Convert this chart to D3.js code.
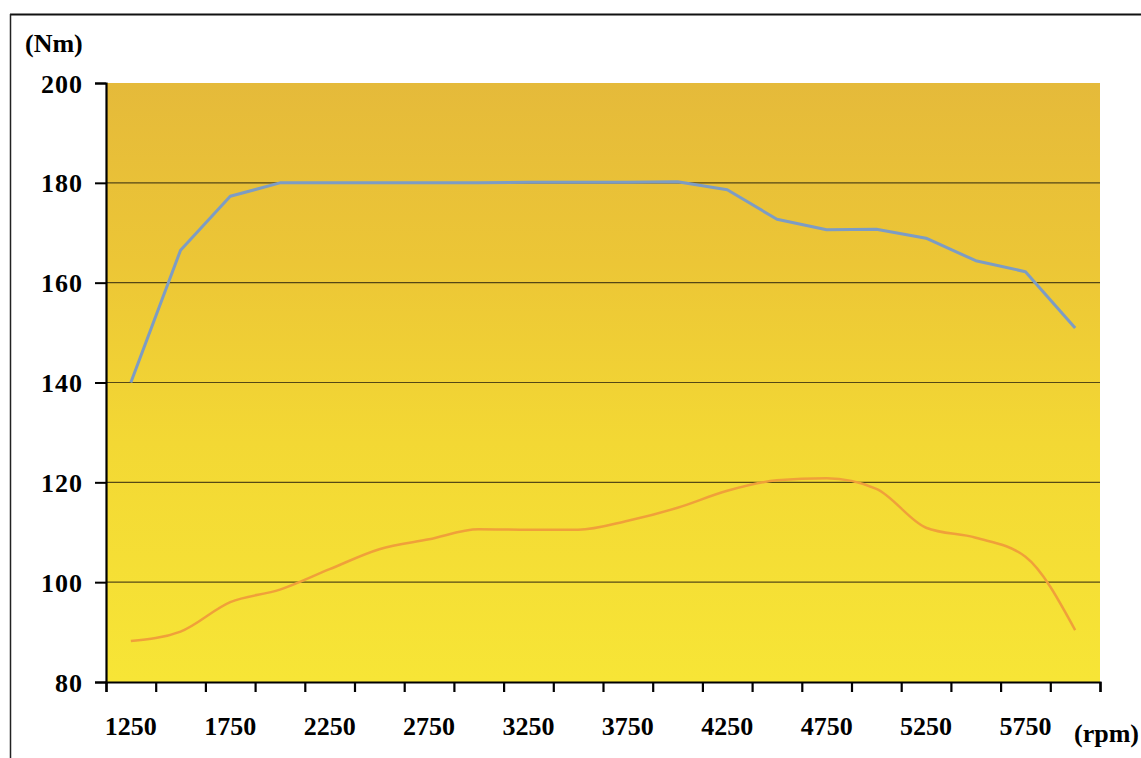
<!DOCTYPE html>
<html>
<head>
<meta charset="utf-8">
<script src="https://cdn.jsdelivr.net/npm/d3@7"></script>
<style>
  html, body { margin: 0; padding: 0; background: #fff; }
  svg { display: block; }
  .lbl { font-family: "Liberation Serif", "Times New Roman", serif; font-weight: bold; fill: #000; }
</style>
</head>
<body>
<svg id="chart" width="1141" height="758"></svg>
<script>
const categories = [1250,1500,1750,2000,2250,2500,2750,3000,3250,3500,3750,4000,4250,4500,4750,5000,5250,5500,5750,6000];
const torque = [140,166.5,177.3,180,180,180,180,180,180.1,180.1,180.1,180.2,178.6,172.7,170.6,170.7,168.9,164.4,162.2,150.9];
const power  = [88.2,90.1,96.0,98.5,102.6,106.6,108.6,110.6,110.5,110.5,112.3,114.9,118.3,120.4,120.8,118.7,110.9,108.9,105.1,90.4];
const xTickLabels = ["1250","1750","2250","2750","3250","3750","4250","4750","5250","5750"];
const yTicks = [80,100,120,140,160,180,200];

(function(){
const svg = d3.select("#chart");
const W = 1141, H = 758;
const pL = 106, pR = 1100, pT = 83, pB = 682;

// outer frame lines
svg.append("line").attr("x1",10).attr("x2",W).attr("y1",14.5).attr("y2",14.5).attr("stroke","#111").attr("stroke-width",2);
svg.append("line").attr("x1",10.5).attr("x2",10.5).attr("y1",14).attr("y2",H).attr("stroke","#222").attr("stroke-width",1.5);

const x = d3.scaleBand().domain(categories).range([pL,pR]).paddingInner(0).paddingOuter(0);
const y = d3.scaleLinear().domain([80,200]).range([pB,pT]);

const defs = svg.append("defs");
const grad = defs.append("linearGradient").attr("id","bg").attr("x1",0).attr("y1",0).attr("x2",0).attr("y2",1);
grad.append("stop").attr("offset","0%").attr("stop-color","#e5ba3a");
grad.append("stop").attr("offset","30%").attr("stop-color","#ecc636");
grad.append("stop").attr("offset","60%").attr("stop-color","#f3d834");
grad.append("stop").attr("offset","100%").attr("stop-color","#f7e536");

svg.append("rect").attr("x",pL).attr("y",pT).attr("width",pR-pL).attr("height",pB-pT).attr("fill","url(#bg)");

// gridlines
svg.append("g").selectAll("line").data(yTicks.filter(d=>d>80 && d<200)).join("line")
  .attr("x1",pL).attr("x2",pR).attr("y1",d=>y(d)).attr("y2",d=>y(d))
  .attr("stroke","#3a3010").attr("stroke-width",1.2).attr("opacity",0.85);

// lines
const cx = d => x(d) + x.bandwidth()/2;
const lineT = d3.line().x((d,i)=>cx(categories[i])).y(d=>y(d)).curve(d3.curveLinear);
const lineP = d3.line().x((d,i)=>cx(categories[i])).y(d=>y(d)).curve(d3.curveMonotoneX);

svg.append("path").datum(torque).attr("d",lineT).attr("fill","none")
  .attr("stroke","#7d9cc4").attr("stroke-width",3).attr("stroke-linejoin","round");
svg.append("path").datum(power).attr("d",lineP).attr("fill","none")
  .attr("stroke","#f0a03a").attr("stroke-width",2.5).attr("stroke-linejoin","round");

// y axis
const yAxis = d3.axisLeft(y).tickValues(yTicks).tickSize(11).tickPadding(12).tickFormat(d3.format("d"));
const gy = svg.append("g").attr("transform",`translate(${pL},0)`).call(yAxis);
gy.select(".domain").attr("stroke","#000").attr("stroke-width",2.2);
gy.selectAll(".tick line").attr("stroke","#000").attr("stroke-width",2);
gy.selectAll(".tick text").attr("class","lbl").style("font-size","26px").style("letter-spacing","1px").attr("dy","0.35em");

// x axis: ticks at category boundaries
const xb = d3.scaleLinear().domain([0,categories.length]).range([pL,pR]);
const gx = svg.append("g").attr("transform",`translate(0,${pB})`)
  .call(d3.axisBottom(xb).tickValues(d3.range(0,categories.length+1)).tickSize(10).tickFormat(""));
gx.select(".domain").attr("stroke","#000").attr("stroke-width",2.2);
gx.selectAll(".tick line").attr("stroke","#000").attr("stroke-width",2.2);

svg.append("g").selectAll("text").data(xTickLabels).join("text")
  .attr("class","lbl").style("font-size","26px")
  .attr("x",d=>cx(+d)).attr("y",735).attr("text-anchor","middle").text(d=>d);

svg.append("text").attr("class","lbl").style("font-size","26px").attr("x",25).attr("y",52).text("(Nm)");
svg.append("text").attr("class","lbl").style("font-size","26px").attr("x",1139).attr("y",742).attr("text-anchor","end").text("(rpm)");
})();
</script>
</body>
</html>
